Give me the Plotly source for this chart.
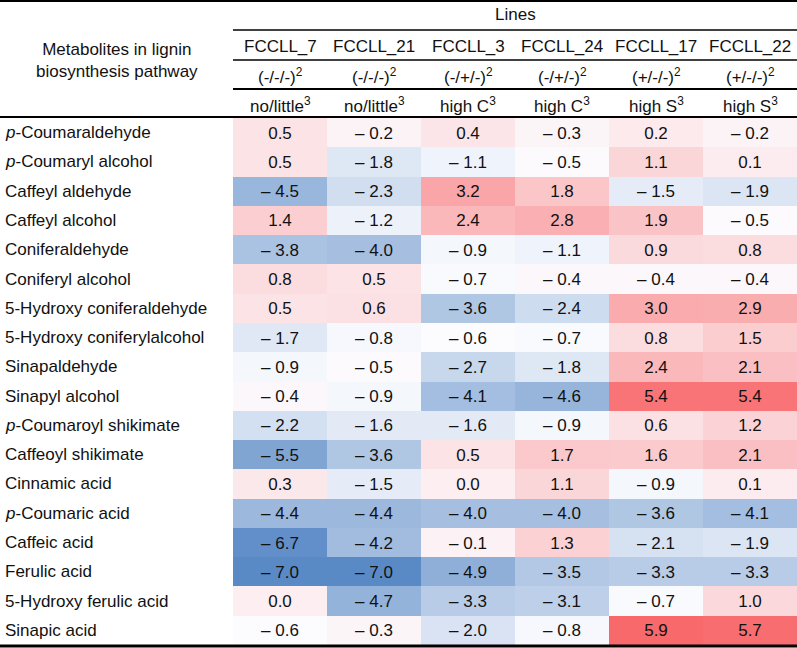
import numpy as np
import plotly.graph_objects as go

metabolites = [
    "<i>p</i>-Coumaraldehyde", "<i>p</i>-Coumaryl alcohol", "Caffeyl aldehyde", "Caffeyl alcohol",
    "Coniferaldehyde", "Coniferyl alcohol", "5-Hydroxy coniferaldehyde", "5-Hydroxy coniferylalcohol",
    "Sinapaldehyde", "Sinapyl alcohol", "<i>p</i>-Coumaroyl shikimate", "Caffeoyl shikimate",
    "Cinnamic acid", "<i>p</i>-Coumaric acid", "Caffeic acid", "Ferulic acid",
    "5-Hydroxy ferulic acid", "Sinapic acid",
]
lines = ["FCCLL_7", "FCCLL_21", "FCCLL_3", "FCCLL_24", "FCCLL_17", "FCCLL_22"]
genotypes = ["(-/-/-)<sup>2</sup>", "(-/-/-)<sup>2</sup>", "(-/+/-)<sup>2</sup>",
             "(-/+/-)<sup>2</sup>", "(+/-/-)<sup>2</sup>", "(+/-/-)<sup>2</sup>"]
phenotypes = ["no/little<sup>3</sup>", "no/little<sup>3</sup>", "high C<sup>3</sup>",
              "high C<sup>3</sup>", "high S<sup>3</sup>", "high S<sup>3</sup>"]

fcclL_7 = [0.5, 0.5, -4.5, 1.4, -3.8, 0.8, 0.5, -1.7, -0.9, -0.4, -2.2, -5.5, 0.3, -4.4, -6.7, -7.0, 0.0, -0.6]
fcclL_21 = [-0.2, -1.8, -2.3, -1.2, -4.0, 0.5, 0.6, -0.8, -0.5, -0.9, -1.6, -3.6, -1.5, -4.4, -4.2, -7.0, -4.7, -0.3]
fcclL_3 = [0.4, -1.1, 3.2, 2.4, -0.9, -0.7, -3.6, -0.6, -2.7, -4.1, -1.6, 0.5, 0.0, -4.0, -0.1, -4.9, -3.3, -2.0]
fcclL_24 = [-0.3, -0.5, 1.8, 2.8, -1.1, -0.4, -2.4, -0.7, -1.8, -4.6, -0.9, 1.7, 1.1, -4.0, 1.3, -3.5, -3.1, -0.8]
fcclL_17 = [0.2, 1.1, -1.5, 1.9, 0.9, -0.4, 3.0, 0.8, 2.4, 5.4, 0.6, 1.6, -0.9, -3.6, -2.1, -3.3, -0.7, 5.9]
fcclL_22 = [-0.2, 0.1, -1.9, -0.5, 0.8, -0.4, 2.9, 1.5, 2.1, 5.4, 1.2, 2.1, 0.1, -4.1, -1.9, -3.3, 1.0, 5.7]

z = np.array([fcclL_7, fcclL_21, fcclL_3, fcclL_24, fcclL_17, fcclL_22]).T


def fmt(v):
    return ("\u2013 %.1f" % abs(v)) if v < 0 else ("%.1f" % v)


text = [[fmt(v) for v in row] for row in z]

zmin, zmax, zmed = z.min(), z.max(), np.median(z)
mid = (zmed - zmin) / (zmax - zmin)
colorscale = [[0, "#5A8AC6"], [mid, "#FCFCFF"], [1, "#F8696B"]]

W, H = 797, 648
FONT = "Liberation Sans, Arial, sans-serif"


def px(x):
    return x / W


def py(y):
    return 1 - y / H


fig = go.Figure(go.Heatmap(
    z=z, x=lines, y=metabolites, text=text, texttemplate="%{text}",
    textfont=dict(size=17, color="#111111", family=FONT),
    colorscale=colorscale, zmin=zmin, zmax=zmax, showscale=False,
    hoverinfo="skip", xgap=0, ygap=0,
))

X0, X1, Y0, Y1 = 233, 797, 118, 645
fig.update_layout(
    width=W, height=H, margin=dict(l=0, r=0, t=0, b=0),
    paper_bgcolor="white", plot_bgcolor="white",
    xaxis=dict(domain=[px(X0), px(X1)], showticklabels=False, showgrid=False,
               zeroline=False, ticks=""),
    yaxis=dict(domain=[py(Y1), py(Y0)], autorange="reversed", showticklabels=False,
               showgrid=False, zeroline=False, ticks=""),
    font=dict(family=FONT, size=17, color="#111111"),
)

ann = []
for m in metabolites:
    ann.append(dict(x=px(3), xref="paper", y=m, yref="y", text=m, showarrow=False,
                    xanchor="left", yanchor="middle", font=dict(size=17)))
for i, name in enumerate(lines):
    for label, yy in ((name, 47), (genotypes[i], 76), (phenotypes[i], 105)):
        ann.append(dict(x=name, xref="x", y=py(yy), yref="paper", text=label,
                        showarrow=False, xanchor="center", yanchor="middle",
                        font=dict(size=17)))
ann.append(dict(x=px((X0 + X1) / 2), xref="paper", y=py(15), yref="paper", text="Lines",
                showarrow=False, xanchor="center", yanchor="middle", font=dict(size=17)))
ann.append(dict(x=px(117), xref="paper", y=py(61), yref="paper",
                text="Metabolites in lignin<br>biosynthesis pathway",
                showarrow=False, xanchor="center", yanchor="middle", align="center",
                font=dict(size=17)))
fig.update_layout(annotations=ann)

shapes = []
for (xa, xb, yy, w) in ((0, W, 1, 2), (X0, W, 30, 1.5), (X0, W, 60, 1.5),
                        (X0, W, 89, 2), (0, W, 117, 2), (0, W, 646, 3)):
    shapes.append(dict(type="line", xref="paper", yref="paper", x0=px(xa), x1=px(xb),
                       y0=py(yy), y1=py(yy), line=dict(color="black", width=w)))
fig.update_layout(shapes=shapes)

fig.write_html("out.html", config={"displayModeBar": False},
               post_script="document.body.style.margin='0';document.body.style.overflow='hidden';")
